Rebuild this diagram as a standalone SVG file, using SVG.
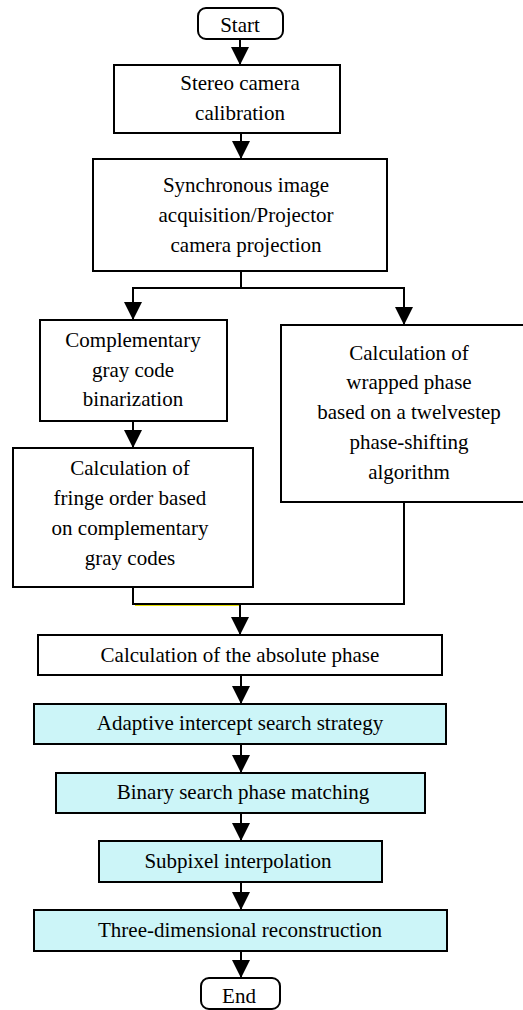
<svg xmlns="http://www.w3.org/2000/svg" width="523" height="1010" viewBox="0 0 523 1010">
<style>
.box{fill:#ffffff;stroke:#000;stroke-width:2}
.cy{fill:#ccf5f8;stroke:#000;stroke-width:2}
.t{font-family:"Liberation Serif","Times New Roman",serif;font-size:21px;fill:#000;text-anchor:middle}
.c{fill:none;stroke:#000;stroke-width:2}
</style>
<defs>
<marker id="ah" viewBox="0 0 18 18" refX="18" refY="9" markerWidth="18" markerHeight="18" markerUnits="userSpaceOnUse" orient="auto">
<path d="M0,0 L18,9 L0,18 z" fill="#000"/>
</marker>
</defs>
<rect width="523" height="1010" fill="#fff"/>
<g id="connectors">
<line class="c" x1="240" y1="39" x2="240" y2="65" marker-end="url(#ah)"/>
<line class="c" x1="241" y1="133" x2="241" y2="159" marker-end="url(#ah)"/>
<polyline class="c" points="241,271 241,288 133,288 133,320" marker-end="url(#ah)"/>
<polyline class="c" points="241,288 404,288 404,325" marker-end="url(#ah)"/>
<line class="c" x1="133" y1="421" x2="133" y2="448" marker-end="url(#ah)"/>
<polyline class="c" points="133,587 133,604 404,604 404,502"/>
<line x1="135" y1="605.5" x2="240" y2="605.5" stroke="#e6e000" stroke-width="1"/>
<line class="c" x1="240" y1="604" x2="240" y2="635" marker-end="url(#ah)"/>
<line class="c" x1="241" y1="675" x2="241" y2="704" marker-end="url(#ah)"/>
<line class="c" x1="241" y1="744" x2="241" y2="773" marker-end="url(#ah)"/>
<line class="c" x1="241" y1="813" x2="241" y2="841" marker-end="url(#ah)"/>
<line class="c" x1="241" y1="882" x2="241" y2="910" marker-end="url(#ah)"/>
<line class="c" x1="241" y1="951" x2="241" y2="978" marker-end="url(#ah)"/>
</g>
<g id="start">
<rect class="box" x="198" y="8" width="85" height="31" rx="8"/>
<text class="t" x="240" y="32">Start</text>
</g>
<g id="stereo">
<rect class="box" x="114" y="65" width="226" height="68"/>
<text class="t" x="240" y="90">Stereo camera</text>
<text class="t" x="240" y="120">calibration</text>
</g>
<g id="sync">
<rect class="box" x="93" y="159" width="294" height="112"/>
<text class="t" x="246" y="192">Synchronous image</text>
<text class="t" x="246" y="222">acquisition/Projector</text>
<text class="t" x="246" y="252">camera projection</text>
</g>
<g id="graycode">
<rect class="box" x="40" y="320" width="187" height="101"/>
<text class="t" x="133" y="347">Complementary</text>
<text class="t" x="133" y="377">gray code</text>
<text class="t" x="133" y="406">binarization</text>
</g>
<g id="fringe">
<rect class="box" x="13" y="448" width="240" height="139"/>
<text class="t" x="130" y="475">Calculation of</text>
<text class="t" x="130" y="505">fringe order based</text>
<text class="t" x="130" y="535">on complementary</text>
<text class="t" x="130" y="565">gray codes</text>
</g>
<g id="wrapped">
<rect class="box" x="281" y="325" width="246" height="177"/>
<text class="t" x="409" y="360">Calculation of</text>
<text class="t" x="409" y="389">wrapped phase</text>
<text class="t" x="409" y="419">based on a twelvestep</text>
<text class="t" x="409" y="449">phase-shifting</text>
<text class="t" x="409" y="479">algorithm</text>
</g>
<g id="absolute">
<rect class="box" x="38" y="635" width="404" height="40"/>
<text class="t" x="240" y="662">Calculation of the absolute phase</text>
</g>
<g id="adaptive">
<rect class="cy" x="34" y="704" width="412" height="40"/>
<text class="t" x="240" y="730">Adaptive intercept search strategy</text>
</g>
<g id="binary">
<rect class="cy" x="56" y="773" width="369" height="40"/>
<text class="t" x="243" y="799">Binary search phase matching</text>
</g>
<g id="subpixel">
<rect class="cy" x="99" y="841" width="283" height="41"/>
<text class="t" x="238" y="868">Subpixel interpolation</text>
</g>
<g id="reconstruction">
<rect class="cy" x="34" y="910" width="413" height="41"/>
<text class="t" x="240" y="937">Three-dimensional reconstruction</text>
</g>
<g id="end">
<rect class="box" x="201" y="978" width="79" height="31" rx="8"/>
<text class="t" x="239" y="1003">End</text>
</g>
</svg>
